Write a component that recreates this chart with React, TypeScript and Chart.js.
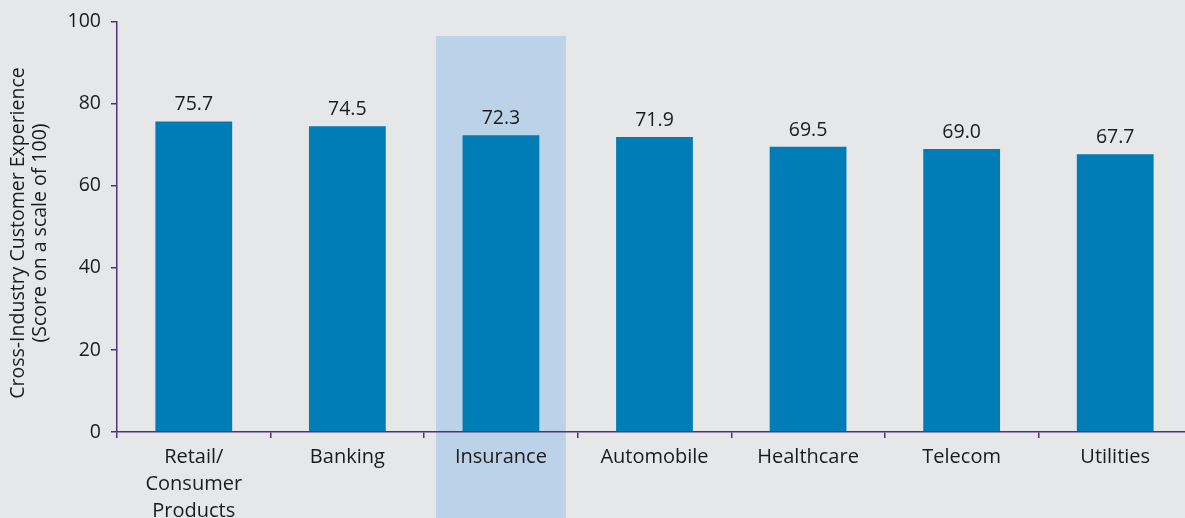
import React, { useEffect, useRef } from "react";
import { Chart, registerables } from "chart.js";

Chart.register(...registerables);

const categories: (string | string[])[] = [
  ["Retail/", "Consumer", "Products"],
  "Banking",
  "Insurance",
  "Automobile",
  "Healthcare",
  "Telecom",
  "Utilities",
];
const scores = [75.7, 74.5, 72.3, 71.9, 69.5, 69.0, 67.7];
const yTicks = [0, 20, 40, 60, 80, 100];
const yTitleLines = ["Cross-Industry Customer Experience", "(Score on a scale of 100)"];
const highlightIndex = 2;
const highlightTop = 96.5;

const FONT = "'Open Sans', 'Noto Sans', sans-serif";
const AXIS = "#52307c";
const BAR = "#007cb7";
const BAND = "#bcd2e8";
const BG = "#e6e7e9";
const TEXT = "#1b1b1b";

export default function App() {
  const ref = useRef<HTMLCanvasElement | null>(null);

  useEffect(() => {
    const canvas = ref.current;
    if (!canvas) return;

    const bandPlugin = {
      id: "band",
      beforeDraw(chart: any) {
        const { ctx, scales } = chart;
        const x = scales.x;
        const y = scales.y;
        const cw = (x.right - x.left) / categories.length;
        const cx = x.getPixelForValue(highlightIndex);
        const w = cw * 0.846;
        const top = y.getPixelForValue(highlightTop);
        ctx.save();
        ctx.fillStyle = BAND;
        ctx.fillRect(cx - w / 2, top, w, chart.height - top);
        ctx.restore();
      },
    };

    const labelPlugin = {
      id: "valueLabels",
      afterDatasetsDraw(chart: any) {
        const { ctx } = chart;
        const meta = chart.getDatasetMeta(0);
        ctx.save();
        ctx.font = `19.5px ${FONT}`;
        ctx.fillStyle = TEXT;
        ctx.textAlign = "center";
        ctx.textBaseline = "alphabetic";
        meta.data.forEach((bar: any, i: number) => {
          ctx.fillText(scores[i].toFixed(1), bar.x, bar.y - 11);
        });
        ctx.restore();
      },
      afterDraw(chart: any) {
        const { ctx } = chart;
        const cy = 233;
        const xs = [18, 40];
        ctx.save();
        ctx.font = `19.5px ${FONT}`;
        ctx.fillStyle = TEXT;
        ctx.textAlign = "center";
        ctx.textBaseline = "middle";
        yTitleLines.forEach((line, i) => {
          ctx.save();
          ctx.translate(xs[i], cy);
          ctx.rotate(-Math.PI / 2);
          ctx.fillText(line, 0, 0);
          ctx.restore();
        });
        ctx.restore();
      },
    };

    const chart = new Chart(canvas, {
      type: "bar",
      data: {
        labels: categories,
        datasets: [
          {
            data: scores,
            backgroundColor: BAR,
            barPercentage: 1,
            categoryPercentage: 0.5,
          },
        ],
      },
      options: {
        responsive: false,
        animation: false,
        events: [],
        layout: { padding: { left: 0, right: 8, top: 21, bottom: 0 } },
        plugins: {
          legend: { display: false },
          tooltip: { enabled: false },
        },
        scales: {
          x: {
            afterFit(scale: any) {
              scale.height = 86;
            },
            grid: {
              display: true,
              drawOnChartArea: false,
              drawTicks: true,
              tickLength: 6,
              color: AXIS,
              lineWidth: 1.5,
              offset: true,
            },
            border: { display: true, color: AXIS, width: 1.5 },
            ticks: {
              color: TEXT,
              font: { family: FONT, size: 20, lineHeight: 1.34 },
              padding: 6,
              maxRotation: 0,
              autoSkip: false,
            },
          },
          y: {
            min: 0,
            max: 100,
            afterFit(scale: any) {
              scale.width = 117;
            },
            afterBuildTicks(scale: any) {
              scale.ticks = yTicks.map((v) => ({ value: v }));
            },
            grid: {
              display: true,
              drawOnChartArea: false,
              drawTicks: true,
              tickLength: 6,
              color: AXIS,
              lineWidth: 1.5,
            },
            border: { display: true, color: AXIS, width: 1.5 },
            ticks: {
              color: TEXT,
              font: { family: FONT, size: 19.5 },
              padding: 10,
            },
          },
        },
      },
      plugins: [bandPlugin, labelPlugin],
    });

    return () => chart.destroy();
  }, []);

  return (
    <div
      style={{
        position: "fixed",
        left: 0,
        top: 0,
        width: 1185,
        height: 518,
        overflow: "hidden",
        background: BG,
      }}
    >
      <canvas ref={ref} width={1200} height={518} style={{ display: "block" }} />
    </div>
  );
}
